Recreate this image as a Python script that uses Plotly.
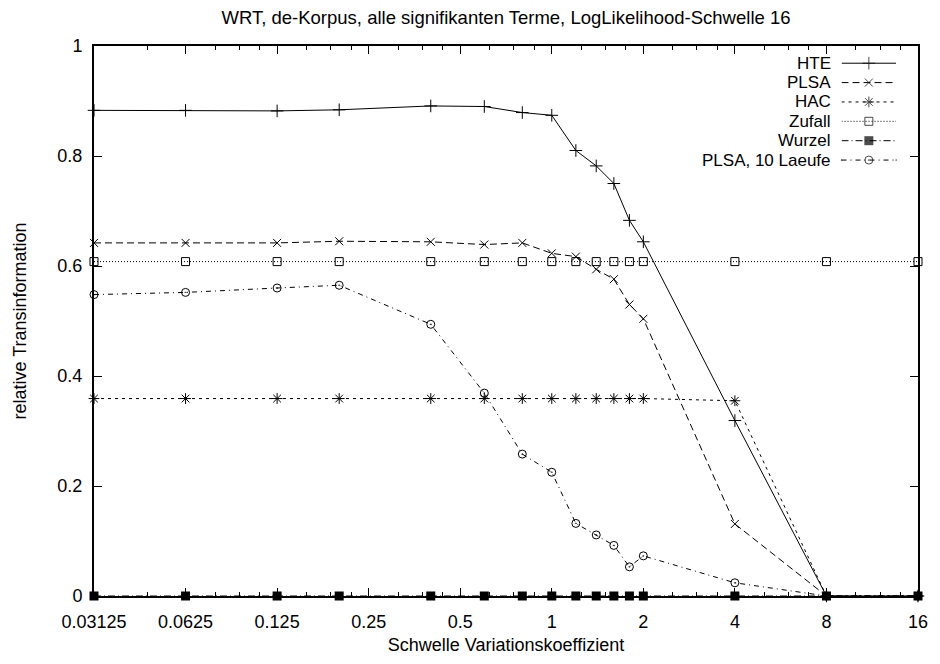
import math
import plotly.graph_objects as go

# ---------------- data ----------------
schwelle = [0.03125, 0.0625, 0.125, 0.2, 0.4, 0.6, 0.8, 1.0, 1.2, 1.4, 1.6, 1.8, 2.0, 4, 8, 16]

hte    = [0.883, 0.883, 0.882, 0.884, 0.891, 0.890, 0.879, 0.874, 0.810, 0.782, 0.750, 0.683, 0.644, 0.319, 0.0, 0.0]
plsa   = [0.642, 0.642, 0.642, 0.645, 0.644, 0.639, 0.642, 0.623, 0.617, 0.594, 0.576, 0.530, 0.504, 0.131, 0.0, 0.0]
hac    = [0.359, 0.359, 0.359, 0.359, 0.359, 0.359, 0.359, 0.359, 0.359, 0.359, 0.359, 0.359, 0.359, 0.355, 0.0, 0.0]
zufall = [0.608, 0.608, 0.608, 0.608, 0.608, 0.608, 0.608, 0.608, 0.608, 0.608, 0.608, 0.608, 0.608, 0.608, 0.608, 0.608]
wurzel = [0.0, 0.0, 0.0, 0.0, 0.0, 0.0, 0.0, 0.0, 0.0, 0.0, 0.0, 0.0, 0.0, 0.0, 0.0, 0.0]
plsa10 = [0.548, 0.552, 0.560, 0.565, 0.494, 0.369, 0.258, 0.225, 0.132, 0.111, 0.092, 0.053, 0.073, 0.024, 0.0, 0.0]

series_names = ["HTE", "PLSA", "HAC", "Zufall", "Wurzel", "PLSA, 10 Laeufe"]
series_values = [hte, plsa, hac, zufall, wurzel, plsa10]

x_tickvals = [0.03125, 0.0625, 0.125, 0.25, 0.5, 1, 2, 4, 8, 16]
x_ticktext = ["0.03125", "0.0625", "0.125", "0.25", "0.5", "1", "2", "4", "8", "16"]
y_tickvals = [0, 0.2, 0.4, 0.6, 0.8, 1.0]
y_ticktext = ["0", "0.2", "0.4", "0.6", "0.8", "1"]

title_text = "WRT, de-Korpus, alle signifikanten Terme, LogLikelihood-Schwelle 16"
x_title = "Schwelle Variationskoeffizient"
y_title = "relative Transinformation"

# ---------------- styles ----------------
FONT = "Liberation Sans, Arial, Helvetica, sans-serif"
styles = [
    dict(dash="solid",               symbol="cross-thin",      size=9),
    dict(dash="7px,4px",             symbol="x-thin",          size=8),
    dict(dash="3px,4px",             symbol="asterisk",        size=9),
    dict(dash="1px,2px",             symbol="square-open",     size=8),
    dict(dash="7px,3px,1px,3px",     symbol="square",          size=9),
    dict(dash="5px,4px,1px,4px",     symbol="circle-open-dot", size=8),
]

# minor ticks (gnuplot-like subdivisions)
minor_vals = [0.046875]
for b in x_tickvals[1:-1]:
    minor_vals += [b * 1.25, b * 1.5, b * 1.75]

fig = go.Figure()

for name, vals, st in zip(series_names, series_values, styles):
    filled = st["symbol"] == "square"
    fig.add_trace(go.Scatter(
        x=schwelle, y=vals, name=name, mode="lines+markers",
        line=dict(color="black", width=1, dash=st["dash"]),
        marker=dict(symbol=st["symbol"], size=st["size"], color="black",
                    line=dict(color="black", width=0 if filled else 1)),
        cliponaxis=False, showlegend=False,
    ))

# custom gnuplot-style key (text right-aligned, sample after it)
for i, (name, st) in enumerate(zip(series_names, styles)):
    filled = st["symbol"] == "square"
    fig.add_trace(go.Scatter(
        x=[0, 1, 2], y=[i, i, i], mode="lines+markers", xaxis="x2", yaxis="y2",
        line=dict(color="black", width=1, dash=st["dash"]),
        marker=dict(symbol=st["symbol"], size=[0, st["size"], 0], color="black",
                    line=dict(color="black", width=0 if filled else 1)),
        cliponaxis=False, showlegend=False, hoverinfo="skip",
    ))
    fig.add_annotation(text=name, xref="paper", yref="y2", x=0.8952, y=i,
                       xanchor="right", yanchor="middle", showarrow=False,
                       borderpad=0,
                       font=dict(family=FONT, size=17, color="black"))

axis_common = dict(
    showline=True, linecolor="black", linewidth=2, mirror="allticks",
    ticks="inside", ticklen=8, tickwidth=1, tickcolor="black",
    showgrid=False, zeroline=False,
    tickfont=dict(family=FONT, size=18, color="black"),
)

fig.update_layout(
    width=940, height=664,
    margin=dict(l=94, r=16, t=46, b=61),
    paper_bgcolor="white", plot_bgcolor="white",
    font=dict(family=FONT, size=18, color="black"),
    title=dict(text=title_text, xref="paper", x=0.5, xanchor="center", y=1 - 18 / 664,
               yanchor="middle", font=dict(family=FONT, size=18.5, color="black")),
    xaxis=dict(type="log", range=[math.log10(1 / 32), math.log10(16)],
               tickmode="array", tickvals=x_tickvals, ticktext=x_ticktext,
               ticklabelstandoff=8,
               minor=dict(tickmode="array", tickvals=minor_vals, ticks="inside",
                          ticklen=4, tickcolor="black", tickwidth=1, showgrid=False),
               title=dict(text=x_title, standoff=8,
                          font=dict(family=FONT, size=18, color="black")),
               **axis_common),
    yaxis=dict(range=[0, 1], tickmode="array", tickvals=y_tickvals, ticktext=y_ticktext,
               ticklabelstandoff=6,
               title=dict(text=y_title, standoff=26,
                          font=dict(family=FONT, size=18, color="black")),
               **axis_common),
    xaxis2=dict(domain=[0.9072, 0.9735], range=[0, 2], visible=False,
                anchor="y2", fixedrange=True),
    yaxis2=dict(domain=[0.7750, 0.9863], range=[5.5, -0.5], visible=False,
                anchor="x2", fixedrange=True),
)

fig.write_html("out.html")
